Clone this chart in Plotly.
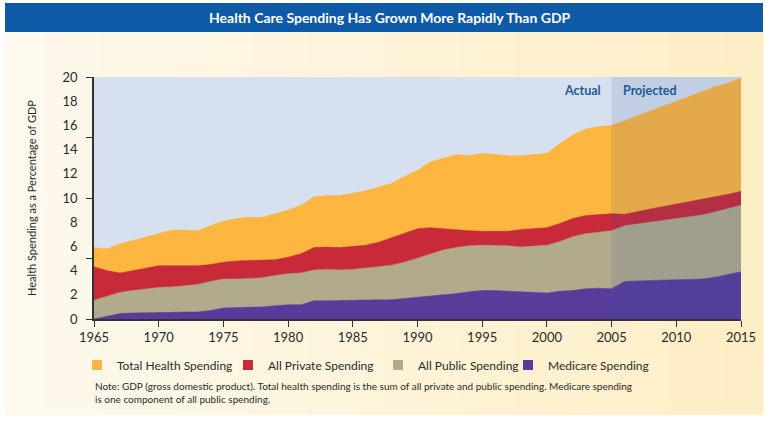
import plotly.graph_objects as go

# Health spending as a share of GDP, 1965-2015 (2006 onward projected)
years = list(range(1965, 2016))

total_health = [5.9, 5.8, 6.2, 6.5, 6.8, 7.1, 7.35, 7.35, 7.3, 7.7,
                8.1, 8.3, 8.4, 8.4, 8.7, 9.0, 9.4, 10.1, 10.2, 10.2,
                10.4, 10.6, 10.9, 11.2, 11.8, 12.3, 13.0, 13.3, 13.6, 13.5,
                13.7, 13.6, 13.5, 13.5, 13.6, 13.7, 14.5, 15.2, 15.7, 15.9,
                16.0, 16.4, 16.8, 17.2, 17.6, 18.0, 18.4, 18.8, 19.2, 19.5,
                19.9]

all_private = [4.3, 4.0, 3.8, 4.0, 4.2, 4.4, 4.4, 4.4, 4.4, 4.5,
               4.7, 4.8, 4.85, 4.9, 4.9, 5.1, 5.4, 5.9, 5.95, 5.9,
               6.0, 6.1, 6.35, 6.7, 7.1, 7.45, 7.55, 7.45, 7.4, 7.3,
               7.25, 7.25, 7.25, 7.4, 7.5, 7.55, 7.9, 8.3, 8.55, 8.6,
               8.7, 8.65, 8.9, 9.1, 9.3, 9.5, 9.7, 9.85, 10.1, 10.3,
               10.55]

all_public = [1.55, 1.85, 2.2, 2.35, 2.5, 2.6, 2.65, 2.75, 2.85, 3.1,
              3.3, 3.3, 3.35, 3.4, 3.6, 3.75, 3.8, 4.05, 4.1, 4.05,
              4.1, 4.2, 4.35, 4.45, 4.7, 5.05, 5.4, 5.7, 5.9, 6.05,
              6.1, 6.1, 6.05, 5.95, 6.0, 6.1, 6.4, 6.8, 7.05, 7.15,
              7.3, 7.7, 7.85, 8.0, 8.1, 8.25, 8.4, 8.6, 8.85, 9.1,
              9.4]

medicare = [0.0, 0.22, 0.45, 0.5, 0.5, 0.55, 0.55, 0.58, 0.58, 0.7,
            0.9, 0.95, 0.95, 1.0, 1.1, 1.18, 1.18, 1.5, 1.5, 1.5,
            1.55, 1.57, 1.57, 1.6, 1.7, 1.8, 1.87, 2.0, 2.1, 2.25,
            2.35, 2.35, 2.3, 2.2, 2.15, 2.15, 2.3, 2.35, 2.5, 2.55,
            2.5, 3.1, 3.15, 3.2, 3.22, 3.25, 3.27, 3.3, 3.45, 3.7,
            3.9]

series_names = ["Total Health Spending", "All Private Spending",
                "All Public Spending", "Medicare Spending"]
series_colors = ["#FDB640", "#C82A3A", "#B1AA8C", "#583C9C"]
series_values = [total_health, all_private, all_public, medicare]

x_ticks = [1965, 1970, 1975, 1980, 1985, 1990, 1995, 2000, 2005, 2010, 2015]
y_labels = list(range(0, 21, 2))
y_marks = list(range(0, 21, 5))
y_range = [0, 20]
last_actual_year = 2005

FONT = "Lato"
INK = "#2b2b2b"

fig = go.Figure()

# Overlapping areas, each filled down to zero, largest drawn first
for name, color, vals in zip(series_names, series_colors, series_values):
    fig.add_trace(go.Scatter(
        x=years, y=vals, mode="lines", fill="tozeroy",
        line=dict(width=0.5, color=color), fillcolor=color,
        showlegend=False, hoverinfo="x+y+name", name=name,
    ))

# Square legend keys, each in its own legend box
legend_ids = ["legend", "legend2", "legend3", "legend4"]
for name, color, lid in zip(series_names, series_colors, legend_ids):
    fig.add_trace(go.Scatter(
        x=[None], y=[None], mode="markers", name=name,
        marker=dict(symbol="square", size=10, color=color),
        legend=lid, showlegend=True,
    ))

# Second y axis carries only the tick marks at every 5
fig.add_trace(go.Scatter(x=[years[0]], y=[0], yaxis="y2", mode="markers",
                         marker=dict(opacity=0), showlegend=False,
                         hoverinfo="skip"))

W, H = 767, 426
L, R, T, B = 94, 26, 77, 107
pw, ph = W - L - R, H - T - B


def px_x(px):
    return (px - L) / pw


def px_y(py):
    return (H - B - py) / ph


def mix(c0, c1, t):
    return "rgb({},{},{})".format(*[round(a + (b - a) * t) for a, b in zip(c0, c1)])


shapes = []

# cream panel, warming from left to right
cream_left, cream_right = (253, 249, 238), (254, 238, 196)
n_strips = 40
panel_x0, panel_x1 = 5, 763
for i in range(n_strips):
    a = panel_x0 + (panel_x1 - panel_x0) * i / n_strips
    b = panel_x0 + (panel_x1 - panel_x0) * (i + 1) / n_strips
    shapes.append(dict(type="rect", xref="paper", yref="paper",
                       x0=px_x(a), x1=px_x(b + 0.6), y0=px_y(415), y1=px_y(32),
                       fillcolor=mix(cream_left, cream_right, (i + 0.5) / n_strips),
                       line=dict(width=0), layer="below"))

shapes += [
    # blue title band
    dict(type="rect", xref="paper", yref="paper",
         x0=px_x(panel_x0), x1=px_x(panel_x1), y0=px_y(32), y1=px_y(3),
         fillcolor="#0F5AA6", line=dict(width=0), layer="below"),
    # plot area background
    dict(type="rect", xref="x", yref="y",
         x0=years[0], x1=years[-1], y0=y_range[0], y1=y_range[1],
         fillcolor="#D7E0EE", line=dict(width=0), layer="below"),
    # shade over the projected years
    dict(type="rect", xref="x", yref="y",
         x0=last_actual_year, x1=years[-1], y0=y_range[0], y1=y_range[1],
         fillcolor="rgba(40,80,150,0.12)", line=dict(width=0), layer="above"),
]

legend_common = dict(orientation="h", bgcolor="rgba(0,0,0,0)",
                     font=dict(family=FONT, size=12, color=INK),
                     xanchor="left", yanchor="middle", y=px_y(365),
                     itemwidth=30, tracegroupgap=0)

fig.update_layout(
    width=W, height=H,
    margin=dict(l=L, r=R, t=T, b=B),
    paper_bgcolor="#FFFFFF",
    plot_bgcolor="rgba(0,0,0,0)",
    font=dict(family=FONT, color=INK),
    shapes=shapes,
    xaxis=dict(range=[years[0], years[-1]], tickvals=x_ticks,
               ticks="outside", ticklen=6, tickcolor="#333",
               showline=True, linecolor="#333", linewidth=1.5,
               showgrid=False, zeroline=False,
               tickfont=dict(family=FONT, size=13, color=INK)),
    yaxis=dict(range=y_range, tickvals=y_labels, ticks="",
               showline=True, linecolor="#333", linewidth=1.5,
               showgrid=False, zeroline=False, ticklabelstandoff=12,
               tickfont=dict(family=FONT, size=13, color=INK),
               title=dict(text="Health Spending as a Percentage of GDP",
                          font=dict(family=FONT, size=11, color=INK),
                          standoff=24)),
    yaxis2=dict(range=y_range, overlaying="y", side="left",
                tickvals=y_marks, ticks="outside", ticklen=7,
                tickcolor="#333", showticklabels=False,
                showgrid=False, zeroline=False, showline=False),
    legend=dict(x=px_x(77), **legend_common),
    legend2=dict(x=px_x(228), **legend_common),
    legend3=dict(x=px_x(378), **legend_common),
    legend4=dict(x=px_x(508), **legend_common),
    annotations=[
        dict(text="<b>Health Care Spending Has Grown More Rapidly Than GDP</b>",
             xref="paper", yref="paper", x=px_x(390), y=px_y(17.5),
             xanchor="center", yanchor="middle",
             showarrow=False, font=dict(family=FONT, size=14, color="#FFFFFF")),
        dict(text="<b>Actual</b>", xref="x", yref="y",
             x=last_actual_year, y=18.85, xanchor="right", yanchor="middle",
             xshift=-9, showarrow=False,
             font=dict(family=FONT, size=12.5, color="#1D5A9C")),
        dict(text="<b>Projected</b>", xref="x", yref="y",
             x=last_actual_year, y=18.85, xanchor="left", yanchor="middle",
             xshift=9, showarrow=False,
             font=dict(family=FONT, size=12.5, color="#1D5A9C")),
        dict(text="Note: GDP (gross domestic product). Total health spending is the sum of "
                  "all private and public spending. Medicare spending<br>"
                  "is one component of all public spending.",
             xref="paper", yref="paper", x=px_x(93), y=px_y(378),
             xanchor="left", yanchor="top", align="left", showarrow=False,
             font=dict(family=FONT, size=10, color=INK)),
    ],
)

fig.write_html("out.html")
